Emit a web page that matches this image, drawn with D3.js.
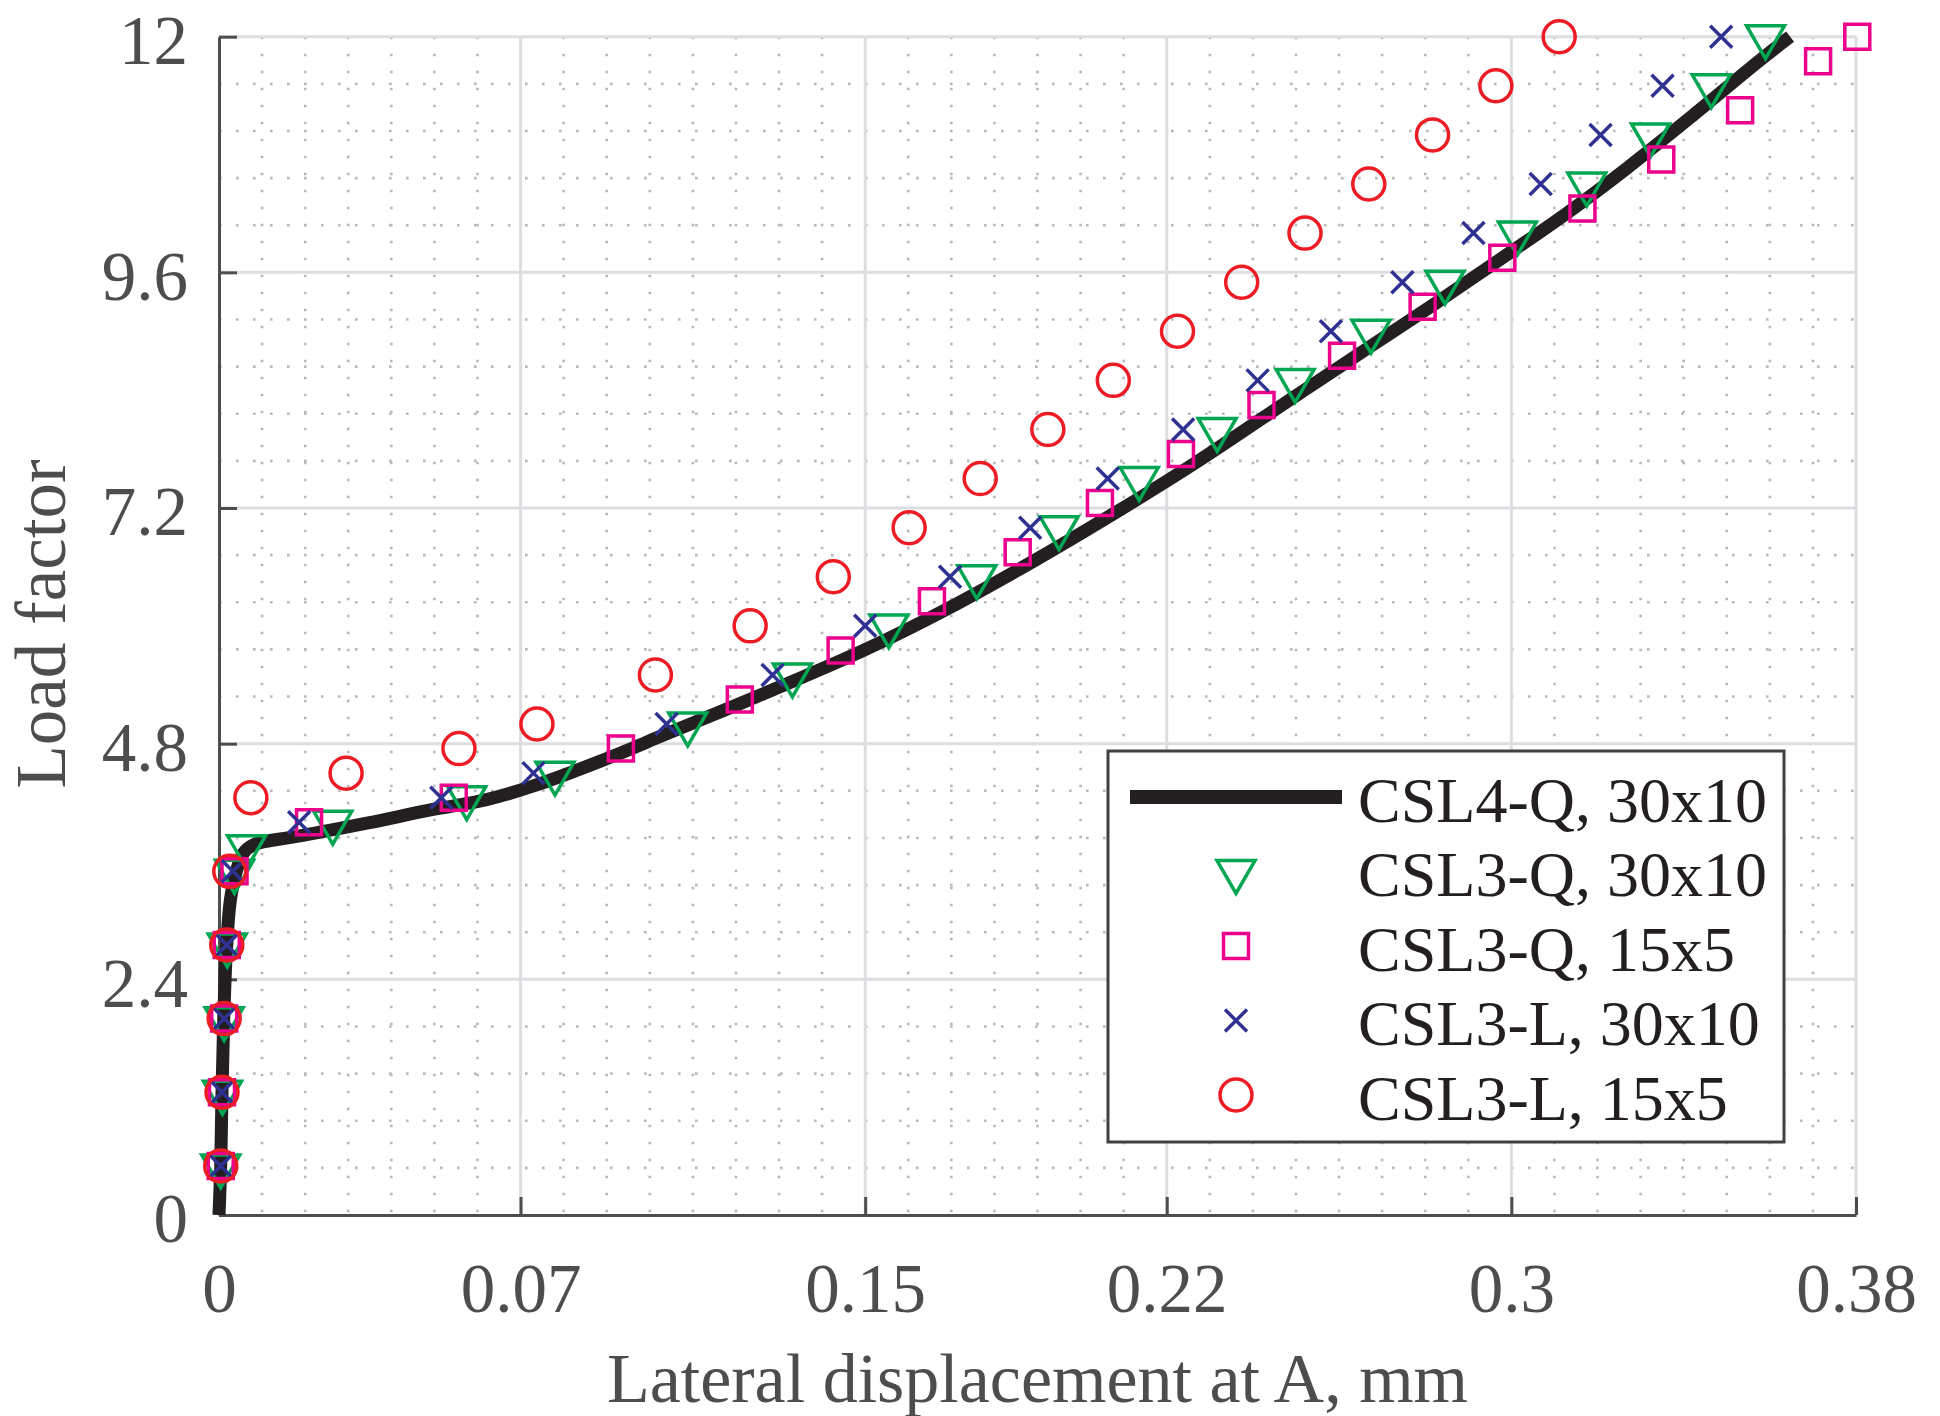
<!DOCTYPE html>
<html>
<head>
<meta charset="utf-8">
<script src="https://cdn.jsdelivr.net/npm/d3@7"></script>
<style>
  html, body { margin: 0; padding: 0; background: #fff; }
  svg { display: block; }
  text { font-family: "Liberation Serif", "Times New Roman", serif; }
</style>
</head>
<body>
<svg id="chart" width="1940" height="1416"></svg>
<script>
// ---------------- DATA ----------------
const xTicks = [0, 0.07, 0.15, 0.22, 0.3, 0.38];
const xTickLabels = ["0", "0.07", "0.15", "0.22", "0.3", "0.38"];
const yTicks = [0, 2.4, 4.8, 7.2, 9.6, 12];
const yTickLabels = ["0", "2.4", "4.8", "7.2", "9.6", "12"];

const seriesNames = ["CSL4-Q, 30x10", "CSL3-Q, 30x10", "CSL3-Q, 15x5", "CSL3-L, 30x10", "CSL3-L, 15x5"];

// CSL4-Q, 30x10 (solid line)
const csl4q30X = [0, 0.0004, 0.0007, 0.0011, 0.0018, 0.0029, 0.0056, 0.0080, 0.0188, 0.0343, 0.0497, 0.0621, 0.0730, 0.0884, 0.1039, 0.1194, 0.1302, 0.1496, 0.1689, 0.1883, 0.2076, 0.2270, 0.2509, 0.2664, 0.2819, 0.2973, 0.3128, 0.3268, 0.3422, 0.3577, 0.3647];
const csl4q30Y = [0, 0.5, 1.25, 2.0, 2.75, 3.28, 3.68, 3.77, 3.86, 3.99, 4.13, 4.23, 4.37, 4.62, 4.90, 5.18, 5.38, 5.75, 6.17, 6.64, 7.14, 7.67, 8.37, 8.82, 9.27, 9.73, 10.20, 10.66, 11.20, 11.76, 12.0];

// CSL3-Q, 30x10 (down triangles)
const csl3q30X = [0.0004, 0.0008, 0.0012, 0.0019, 0.0036, 0.0064, 0.0264, 0.0575, 0.0780, 0.1088, 0.1331, 0.1555, 0.1759, 0.1950, 0.2136, 0.2317, 0.2498, 0.2674, 0.2846, 0.3014, 0.3175, 0.3323, 0.3464, 0.3590];
const csl3q30Y = [0.5, 1.25, 2.0, 2.75, 3.5, 3.75, 4.0, 4.25, 4.5, 5.0, 5.5, 6.0, 6.5, 7.0, 7.5, 8.0, 8.5, 9.0, 9.5, 10.0, 10.5, 11.0, 11.5, 12.0];

// CSL3-Q, 15x5 (squares)
const csl3q15X = [0.0004, 0.0007, 0.0012, 0.0018, 0.0036, 0.0209, 0.0545, 0.0933, 0.1209, 0.1443, 0.1655, 0.1854, 0.2045, 0.2233, 0.2420, 0.2607, 0.2794, 0.2979, 0.3165, 0.3348, 0.3531, 0.3712, 0.3803];
const csl3q15Y = [0.5, 1.25, 2.0, 2.75, 3.5, 4.0, 4.25, 4.75, 5.25, 5.75, 6.25, 6.75, 7.25, 7.75, 8.25, 8.75, 9.25, 9.75, 10.25, 10.75, 11.25, 11.75, 12.0];

// CSL3-L, 30x10 (x marks)
const csl3l30X = [0.0004, 0.0007, 0.0012, 0.0018, 0.0032, 0.0186, 0.0516, 0.0730, 0.1039, 0.1285, 0.1500, 0.1697, 0.1883, 0.2063, 0.2238, 0.2411, 0.2581, 0.2747, 0.2912, 0.3068, 0.3207, 0.3351, 0.3487];
const csl3l30Y = [0.5, 1.25, 2.0, 2.75, 3.5, 4.0, 4.25, 4.5, 5.0, 5.5, 6.0, 6.5, 7.0, 7.5, 8.0, 8.5, 9.0, 9.5, 10.0, 10.5, 11.0, 11.5, 12.0];

// CSL3-L, 15x5 (circles)
const csl3l15X = [0.0004, 0.0007, 0.0012, 0.0018, 0.0025, 0.0074, 0.0295, 0.0557, 0.0738, 0.1013, 0.1233, 0.1426, 0.1602, 0.1767, 0.1924, 0.2076, 0.2225, 0.2374, 0.2521, 0.2669, 0.2817, 0.2964, 0.3111];
const csl3l15Y = [0.5, 1.25, 2.0, 2.75, 3.5, 4.25, 4.5, 4.75, 5.0, 5.5, 6.0, 6.5, 7.0, 7.5, 8.0, 8.5, 9.0, 9.5, 10.0, 10.5, 11.0, 11.5, 12.0];

// ---------------- LAYOUT ----------------
const svg = d3.select("#chart");
const L = 219, R = 1856, T = 36.7, B = 1215;
const x = d3.scaleLinear().domain([0, 0.38]).range([L, R]);
const y = d3.scaleLinear().domain([0, 12]).range([B, T]);

const axisColor = "#4d4d4d";
const gridColor = "#dcdee1";
const minorColor = "#b9b9b9";

// minor grid (dotted)
const g = svg.append("g");
const minorX = d3.range(1, 38).map(i => i / 100).filter(v => !xTicks.some(t => Math.abs(t - v) < 1e-9));
const minorY = d3.range(1, 25).map(i => i * 0.48).filter(v => !yTicks.some(t => Math.abs(t - v) < 1e-9));
g.selectAll(".mx").data(minorX).join("line")
  .attr("x1", d => x(d)).attr("x2", d => x(d)).attr("y1", y(12)).attr("y2", y(0))
  .attr("stroke", minorColor).attr("stroke-width", 2.6).attr("stroke-dasharray", "2.6,14.4");
g.selectAll(".my").data(minorY).join("line")
  .attr("x1", x(0)).attr("x2", x(0.38)).attr("y1", d => y(d)).attr("y2", d => y(d))
  .attr("stroke", minorColor).attr("stroke-width", 2.6).attr("stroke-dasharray", "2.6,14.4");

// major grid
g.selectAll(".gx").data(xTicks.slice(1)).join("line")
  .attr("x1", d => x(d)).attr("x2", d => x(d)).attr("y1", y(12)).attr("y2", y(0))
  .attr("stroke", gridColor).attr("stroke-width", 3);
g.selectAll(".gy").data(yTicks.slice(1)).join("line")
  .attr("x1", x(0)).attr("x2", x(0.38)).attr("y1", d => y(d)).attr("y2", d => y(d))
  .attr("stroke", gridColor).attr("stroke-width", 3);

// axes
const xAxis = svg.append("g").attr("transform", `translate(0,${B})`)
  .call(d3.axisBottom(x).tickValues(xTicks).tickFormat((d, i) => xTickLabels[i]).tickSize(-18).tickSizeOuter(0));
const yAxis = svg.append("g").attr("transform", `translate(${L},0)`)
  .call(d3.axisLeft(y).tickValues(yTicks).tickFormat((d, i) => yTickLabels[i]).tickSize(-18).tickSizeOuter(0));
[xAxis, yAxis].forEach(a => {
  a.select(".domain").attr("stroke", axisColor).attr("stroke-width", 3);
  a.selectAll(".tick line").attr("stroke", axisColor).attr("stroke-width", 3);
  a.selectAll(".tick text").attr("fill", axisColor).style("font-family", '"Liberation Serif", serif').style("font-size", "69px");
});
xAxis.selectAll(".tick text").attr("y", 97).attr("dy", 0);
yAxis.selectAll(".tick text").attr("x", -31).attr("dy", "0.39em");

// axis titles
svg.append("text").attr("x", (L + R) / 2).attr("y", 1402).attr("text-anchor", "middle")
  .attr("fill", axisColor).style("font-size", "70px").text("Lateral displacement at A, mm");
svg.append("text").attr("transform", "translate(65,624) rotate(-90)").attr("text-anchor", "middle")
  .attr("fill", axisColor).style("font-size", "71px").text("Load factor");

// ---------------- MARKS ----------------
const lineColor = "#231f20";
const cols = { tri: "#00a651", sq: "#ec008c", x: "#2e3192", circ: "#ed1c24" };
const mw = 3.5;

const curvePts = csl4q30X.map((v, i) => [v, csl4q30Y[i]]);
svg.append("path").datum(curvePts)
  .attr("d", d3.line().x(d => x(d[0])).y(d => y(d[1])).curve(d3.curveCatmullRom.alpha(0.5)))
  .attr("fill", "none").attr("stroke", lineColor).attr("stroke-width", 13).attr("stroke-linejoin", "round");

const triPath = d3.symbol().type(d3.symbolTriangle).size(625)();
const sqPath = d3.symbol().type(d3.symbolSquare).size(625)();
const circPath = d3.symbol().type(d3.symbolCircle).size(804)();
const xh = 11;
const xPath = `M${-xh},${-xh}L${xh},${xh}M${-xh},${xh}L${xh},${-xh}`;

function drawMarkers(xs, ys, path, color, rot) {
  const pts = xs.map((v, i) => [v, ys[i]]);
  svg.append("g").selectAll("path").data(pts).join("path")
    .attr("d", path)
    .attr("transform", d => `translate(${x(d[0])},${y(d[1])})${rot ? " rotate(180)" : ""}`)
    .attr("fill", "none").attr("stroke", color).attr("stroke-width", mw);
}
drawMarkers(csl3q30X, csl3q30Y, triPath, cols.tri, true);
drawMarkers(csl3q15X, csl3q15Y, sqPath, cols.sq, false);
drawMarkers(csl3l30X, csl3l30Y, xPath, cols.x, false);
drawMarkers(csl3l15X, csl3l15Y, circPath, cols.circ, false);

// ---------------- LEGEND ----------------
const lg = svg.append("g");
lg.append("rect").attr("x", 1108).attr("y", 751).attr("width", 676).attr("height", 391)
  .attr("fill", "#fff").attr("stroke", "#404040").attr("stroke-width", 3);
const rowY = i => 797 + i * 74.5;
lg.append("line").attr("x1", 1130).attr("x2", 1342).attr("y1", rowY(0)).attr("y2", rowY(0))
  .attr("stroke", lineColor).attr("stroke-width", 14);
const legSyms = [null, [triPath, cols.tri, true], [sqPath, cols.sq, false], [xPath, cols.x, false], [circPath, cols.circ, false]];
legSyms.forEach((s, i) => {
  if (!s) return;
  lg.append("path").attr("d", s[0])
    .attr("transform", `translate(1236,${rowY(i)})${s[2] ? " rotate(180)" : ""}`)
    .attr("fill", "none").attr("stroke", s[1]).attr("stroke-width", mw);
});
lg.selectAll("text.lt").data(seriesNames).join("text")
  .attr("x", 1358).attr("y", (d, i) => rowY(i) + 24.5)
  .attr("fill", "#231f20").style("font-size", "64px").text(d => d);
</script>
</body>
</html>
